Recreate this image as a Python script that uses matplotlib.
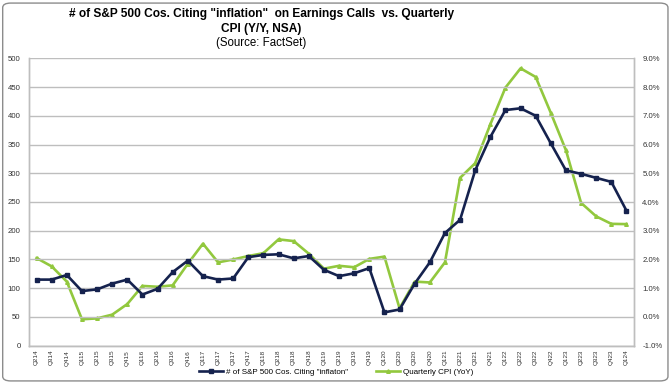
import matplotlib
matplotlib.use("Agg")
import matplotlib.pyplot as plt
from matplotlib.patches import FancyBboxPatch
from matplotlib.lines import Line2D

plt.rcParams['font.family'] = ['Liberation Sans', 'DejaVu Sans']

quarters = ["Q214", "Q314", "Q414",
            "Q115", "Q215", "Q315", "Q415",
            "Q116", "Q216", "Q316", "Q416",
            "Q117", "Q217", "Q317", "Q417",
            "Q118", "Q218", "Q318", "Q418",
            "Q119", "Q219", "Q319", "Q419",
            "Q120", "Q220", "Q320", "Q420",
            "Q121", "Q221", "Q321", "Q421",
            "Q122", "Q222", "Q322", "Q422",
            "Q123", "Q223", "Q323", "Q423",
            "Q124"]

inflation_mentions = [115, 115, 123, 95, 98, 108, 115, 89, 99, 128,
                      148, 121, 115, 117, 154, 158, 159, 152, 156, 132,
                      121, 126, 135, 58, 63, 108, 145, 196, 219, 305,
                      363, 410, 413, 400, 352, 305, 299, 292, 285, 235]

cpi_yoy = [2.05, 1.76, 1.23, -0.08, -0.05, 0.08, 0.45, 1.08, 1.05, 1.1,
           1.85, 2.55, 1.9, 2.0, 2.12, 2.22, 2.7, 2.64, 2.2, 1.68,
           1.78, 1.73, 2.02, 2.1, 0.3, 1.23, 1.2, 1.9, 4.84, 5.35,
           6.7, 7.98, 8.65, 8.35, 7.1, 5.8, 3.97, 3.5, 3.24, 3.23]

left_ticks = list(range(0, 501, 50))
right_ticks = list(range(-1, 10))

navy = "#15224E"
green = "#92C83E"
grid_gray = "#BEBEBE"

fig = plt.figure(figsize=(6.72, 3.84), dpi=100)
fig.patch.set_facecolor("white")

# outer chart border
border = FancyBboxPatch((0.004, 0.008), 0.990, 0.984,
                        boxstyle="round,pad=0,rounding_size=0.012",
                        transform=fig.transFigure, fill=False,
                        edgecolor="#8C8C8C", linewidth=1.0)
fig.patches.append(border)

ax = fig.add_axes([29/672, 1-345.7/384, (634-29)/672, (345.7-58.3)/384])
ax2 = ax.twinx()

x = list(range(len(quarters)))

ax.set_xlim(-0.5, len(quarters) - 0.5)
ax.set_ylim(0, 500)
ax.set_yticks(left_ticks)
ax.set_yticklabels([str(t) for t in left_ticks])
ax.grid(axis="y", color=grid_gray, linewidth=1.0)
ax.set_axisbelow(True)

ax2.set_ylim(-1, 9)
ax2.set_yticks(right_ticks)
ax2.set_yticklabels([f"{t:.1f}%" for t in right_ticks])

for a in (ax, ax2):
    a.spines["top"].set_visible(False)
    for s in ("left", "right", "bottom"):
        a.spines[s].set_color(grid_gray)
        a.spines[s].set_linewidth(1.0)
    a.tick_params(axis="y", length=0, labelsize=5.6, colors="#333333", pad=6)

ax.set_xticks(x)
ax.set_xticklabels(quarters, rotation=90, fontsize=4.6, color="#333333")
ax.tick_params(axis="x", length=0, pad=3)

ax.plot(x, inflation_mentions, color=navy, linewidth=1.9, marker="s",
        markersize=3.2, zorder=4)
ax2.plot(x, cpi_yoy, color=green, linewidth=1.9, marker="^",
         markersize=2.6, zorder=3)
ax.set_zorder(ax2.get_zorder() + 1)
ax.patch.set_visible(False)

fig.text(0.389, 1 - 14/384, "# of S&P 500 Cos. Citing \"inflation\"  on Earnings Calls  vs. Quarterly",
         ha="center", va="center", fontsize=8.6, fontweight="bold")
fig.text(0.389, 1 - 29/384, "CPI (Y/Y, NSA)", ha="center", va="center",
         fontsize=8.6, fontweight="bold")
fig.text(0.389, 1 - 43/384, "(Source: FactSet)", ha="center", va="center",
         fontsize=8.3)

handles = [Line2D([0], [0], color=navy, linewidth=1.9, marker="s", markersize=3.2),
           Line2D([0], [0], color=green, linewidth=1.9, marker="^", markersize=2.6)]
fig.legend(handles, ["# of S&P 500 Cos. Citing \"inflaton\"", "Quarterly CPI (YoY)"],
           loc="center", bbox_to_anchor=(0.50, 1 - 372/384), ncol=2,
           frameon=False, fontsize=5.8, handlelength=3.0, columnspacing=3.5,
           handletextpad=0.3)

fig.savefig("out.png", dpi=100)
